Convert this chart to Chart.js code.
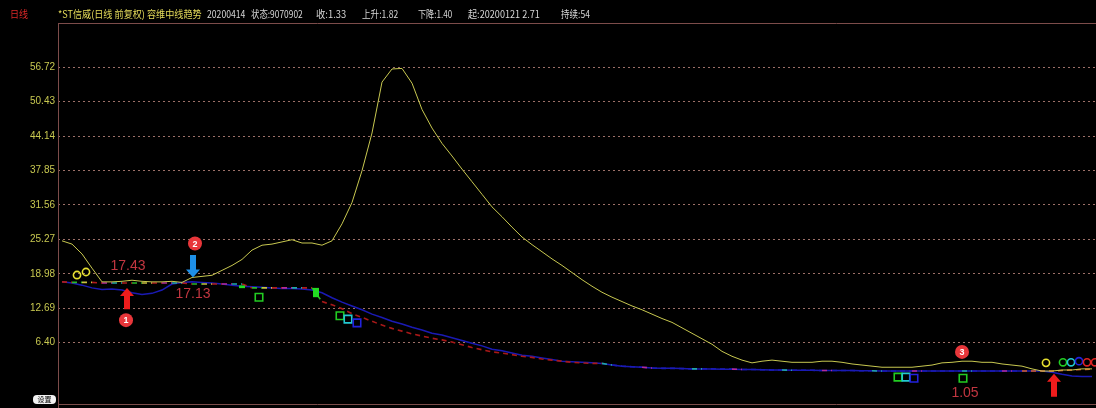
<!DOCTYPE html>
<html><head><meta charset="utf-8">
<script src="https://cdn.jsdelivr.net/npm/chart.js@4.4.0/dist/chart.umd.min.js"></script>
<style>
html,body{margin:0;padding:0;background:#000;}
#wrap{position:relative;width:1096px;height:408px;overflow:hidden;background:#000;}
canvas{position:absolute;left:0;top:0;}
.h{position:absolute;top:7px;font-size:10px;font-family:"Noto Sans CJK SC","Noto Sans",sans-serif;white-space:nowrap;color:#d6d6d6;line-height:14px;transform-origin:0 50%;}
#btn{position:absolute;left:33px;top:395px;width:23px;height:9px;background:#f2f2f2;border-radius:4px;font-size:7px;line-height:9px;text-align:center;color:#000;font-family:"Noto Sans CJK SC",sans-serif;}
</style></head><body>
<div id="wrap">
<canvas id="c" width="1096" height="408"></canvas>
<div class="h" data-w="18" style="left:10px;color:#e02828">日线</div>
<div class="h" data-w="144" style="left:58px;color:#e6dc5a">*ST信威(日线 前复权) 容维中线趋势</div>
<div class="h" data-w="38" style="left:207px">20200414</div>
<div class="h" data-w="52" style="left:251px">状态:9070902</div>
<div class="h" data-w="30" style="left:316px">收:1.33</div>
<div class="h" data-w="36" style="left:362px">上升:1.82</div>
<div class="h" data-w="34" style="left:418px">下降:1.40</div>
<div class="h" data-w="72" style="left:468px">起:20200121 2.71</div>
<div class="h" data-w="29" style="left:561px">持续:54</div>
<div id="btn">设置</div>
</div>
<script>
// ---- data ----
const days = Array.from({length:104},(_,i)=>i);
const yTicks = [6.40,12.69,18.98,25.27,31.56,37.85,44.14,50.43,56.72];
const trendLine = [25.0,24.4,22.6,20.0,17.5,17.5,17.6,17.8,17.6,17.5,
 17.5,17.6,17.4,18.3,18.5,18.7,19.6,20.5,21.6,23.3,
 24.2,24.4,24.8,25.2,24.6,24.6,24.2,25.0,28.1,32.0,
 37.8,44.7,54.0,56.4,56.5,53.8,49.0,45.6,42.8,40.5,
 38.1,35.8,33.5,31.2,29.4,27.5,25.7,24.3,23.0,21.7,
 20.5,19.2,17.9,16.7,15.6,14.7,13.9,13.1,12.4,11.6,
 10.8,10.1,9.1,8.1,7.1,6.1,4.8,3.9,3.2,2.7,
 3.0,3.2,3.0,2.8,2.8,2.8,3.0,3.0,2.8,2.5,
 2.3,2.1,1.9,1.9,1.9,1.9,2.1,2.3,2.7,2.8,
 3.0,3.0,2.8,2.8,2.5,2.3,2.1,1.6,1.2,1.2,
 1.4,1.4,1.6,1.6];
const midLine = [17.5,17.3,16.9,16.4,16.1,16.2,16.0,15.5,15.2,15.4,
 16.0,17.1,17.4,17.5,17.4,17.3,17.1,16.9,16.7,16.6,
 16.5,16.4,16.3,16.3,16.2,16.0,15.5,14.6,13.8,13.1,
 12.4,11.6,11.0,10.3,9.8,9.2,8.7,8.1,7.8,7.3,
 6.8,6.3,5.8,5.2,4.9,4.5,4.1,3.9,3.6,3.3,
 3.0,2.9,2.8,2.7,2.6,2.3,2.1,2.0,1.9,1.75,
 1.7,1.7,1.65,1.6,1.6,1.6,1.55,1.55,1.5,1.5,
 1.45,1.4,1.4,1.35,1.35,1.35,1.3,1.3,1.3,1.3,
 1.25,1.25,1.2,1.2,1.2,1.2,1.2,1.2,1.2,1.2,
 1.2,1.2,1.2,1.2,1.2,1.2,1.2,1.2,1.2,1.0,
 0.6,0.3,0.2,0.2];
const stopLine = [17.5,17.4,17.4,17.4,17.3,17.3,17.3,17.3,17.3,17.3,
 17.3,17.3,17.3,17.1,17.1,17.1,17.1,17.1,17.1,16.4,
 16.4,16.4,16.4,16.4,16.4,16.4,13.9,13.3,12.6,11.7,
 11.0,10.3,9.6,9.0,8.5,8.0,7.6,7.2,6.9,6.5,
 6.0,5.5,5.1,4.7,4.5,4.2,3.9,3.7,3.4,3.2,
 3.0,2.8,2.7,2.6,2.6,2.3,2.1,2.0,1.9,1.75,
 1.7,1.7,1.65,1.6,1.6,1.6,1.55,1.55,1.5,1.5,
 1.45,1.4,1.4,1.35,1.35,1.35,1.3,1.3,1.3,1.3,
 1.25,1.25,1.2,1.2,1.2,1.2,1.2,1.2,1.2,1.2,
 1.2,1.2,1.2,1.2,1.2,1.2,1.2,1.2,1.2,1.2,
 1.3,1.4,1.5,1.55];
const circleIdx  = [1.5, 2.4, 98.4, 100.1, 100.9, 101.7, 102.5, 103.3];
const circleVal  = [18.75, 19.3, 2.7, 2.8, 2.8, 3.0, 2.8, 2.8];
const circleKind = ['yellow','yellow','yellow','green','cyan','blue','red','red'];
const squareIdx  = [19.7, 27.8, 28.6, 29.5, 83.6, 84.4, 85.2, 90.1];
const squareVal  = [14.7, 11.3, 10.7, 10.0, 0.1, 0.1, -0.1, -0.1];
const squareKind = ['green','green','cyan','blue','green','cyan','blue','green'];
const signalNo   = ['1','2','3'];
const badgeIdx   = [6.4, 13.3, 90.0];
const badgeVal   = [10.5, 24.5, 4.7];
const arrowIdx   = [6.5, 13.1, 99.2];
const arrowDir   = ['up','down','up'];
const arrowFrom  = [12.5, 22.4, -3.5];
const arrowTo    = [16.4, 18.3, 0.7];
const priceText  = ['17.43','17.13','1.05'];
const priceIdx   = [6.6, 13.1, 90.3];
const priceVal   = [20.4, 15.3, -2.8];
const blockIdx   = [18.0, 25.4];
const blockHigh  = [16.85, 16.4];
const blockLow   = [16.35, 14.7];

// ---- header width fit ----
document.querySelectorAll('.h').forEach(el=>{
  const w = +el.dataset.w, nat = el.scrollWidth;
  if (nat > 0) el.style.transform = 'scaleX(' + (w/nat) + ')';
});

// ---- styles ----
const kindColor = {yellow:'#e6e030',green:'#22cc22',cyan:'#22c8d0',blue:'#2222dd',red:'#dd2222'};
const AX = '#7c4c4a';

const overlay = {
  id:'overlay',
  beforeDatasetsDraw(chart){
    const {ctx, chartArea:a} = chart;
    ctx.save();
    ctx.strokeStyle = AX; ctx.lineWidth = 1;
    ctx.beginPath();
    ctx.moveTo(a.left+0.5, a.top); ctx.lineTo(a.left+0.5, 408);
    ctx.moveTo(a.left, a.top+0.5); ctx.lineTo(a.right, a.top+0.5);
    ctx.moveTo(a.left, a.bottom-0.5); ctx.lineTo(a.right, a.bottom-0.5);
    ctx.stroke();
    ctx.restore();
  },
  afterDatasetsDraw(chart){
    const {ctx, scales:{x,y}} = chart;
    ctx.save();
    ctx.fillStyle = '#22dd22';
    blockIdx.forEach((d,i)=>{
      const px = x.getPixelForValue(d), t = y.getPixelForValue(blockHigh[i]), b = y.getPixelForValue(blockLow[i]);
      ctx.fillRect(px-3, t, 6, b-t);
    });
    arrowIdx.forEach((d,i)=>{
      const px = x.getPixelForValue(d);
      const p0 = y.getPixelForValue(arrowFrom[i]), p1 = y.getPixelForValue(arrowTo[i]);
      const dir = p1 < p0 ? -1 : 1;
      const head = 8, hw = 7, sw = 3;
      ctx.fillStyle = arrowDir[i]==='down' ? '#1e90e8' : '#ee1c1c';
      ctx.beginPath();
      ctx.moveTo(px-sw, p0);
      ctx.lineTo(px-sw, p1 - dir*head);
      ctx.lineTo(px-hw, p1 - dir*head);
      ctx.lineTo(px, p1);
      ctx.lineTo(px+hw, p1 - dir*head);
      ctx.lineTo(px+sw, p1 - dir*head);
      ctx.lineTo(px+sw, p0);
      ctx.closePath();
      ctx.fill();
    });
    badgeIdx.forEach((d,i)=>{
      const px = x.getPixelForValue(d), by = y.getPixelForValue(badgeVal[i]);
      ctx.fillStyle = '#e8363a';
      ctx.beginPath(); ctx.arc(px, by, 7, 0, Math.PI*2); ctx.fill();
      ctx.fillStyle = '#fff';
      ctx.font = 'bold 9px "Liberation Sans", sans-serif';
      ctx.textAlign='center'; ctx.textBaseline='middle';
      ctx.fillText(signalNo[i], px, by+0.5);
    });
    ctx.font = '14px "Liberation Sans", sans-serif';
    ctx.fillStyle = '#c23640';
    ctx.textAlign='center'; ctx.textBaseline='middle';
    priceText.forEach((t,i)=>{
      ctx.fillText(t, x.getPixelForValue(priceIdx[i]), y.getPixelForValue(priceVal[i]));
    });
    ctx.restore();
  }
};

const palette1 = ['#b01c1c','#2ab82a','#c8c040','#b01c1c','#b42a9a','#20a8a8'];
function dashColor(c){
  const i = c.p0DataIndex;
  if (i < 26) return palette1[i % palette1.length];
  if (i < 54) return '#a81818';
  if (i < 96) return (i%9===0) ? '#20a8a8' : (i%9===4 ? '#b42a9a' : '#1a1ab4');
  return '#d8602a';
}

new Chart(document.getElementById('c'), {
  type:'line',
  data:{
    labels: days,
    datasets:[
      {data:trendLine, borderColor:'#c8c850', borderWidth:1, pointRadius:0, order:3},
      {data:stopLine, borderColor:'#a81818', borderWidth:1.6, borderDash:[5,4], pointRadius:0, order:4,
       segment:{borderColor: dashColor}},
      {data:midLine, borderColor:'#1a1ab4', borderWidth:1.5, pointRadius:0, order:5},
      {type:'scatter', data:circleIdx.map((d,i)=>({x:d,y:circleVal[i]})), pointStyle:'circle', pointRadius:3.6,
       pointBorderWidth:1.6, pointBackgroundColor:'rgba(0,0,0,0)',
       pointBorderColor:circleKind.map(k=>kindColor[k]), order:1},
      {type:'scatter', data:squareIdx.map((d,i)=>({x:d,y:squareVal[i]})), pointStyle:'rect', pointRadius:5.3,
       pointBorderWidth:1.6, pointBackgroundColor:'rgba(0,0,0,0)',
       pointBorderColor:squareKind.map(k=>kindColor[k]), order:2}
    ]
  },
  options:{
    responsive:false, animation:false, devicePixelRatio:1,
    layout:{autoPadding:false, padding:{top:23,bottom:3,left:0,right:0}},
    plugins:{legend:{display:false}, tooltip:{enabled:false}},
    elements:{line:{tension:0}},
    scales:{
      x:{type:'linear', display:false, min:-0.4, max:103.4},
      y:{min:-5, max:64.8,
         afterFit(s){ s.width = 58; s.paddingTop = 0; s.paddingBottom = 0; },
         afterBuildTicks(s){ s.ticks = yTicks.map(v=>({value:v})); },
         grid:{color:'#9c7068', lineWidth:1, drawTicks:false},
         border:{display:false, dash:[2,3]},
         ticks:{color:'#c8c850', padding:3, font:{size:10, family:'"Liberation Sans", sans-serif'},
                callback:v=>v.toFixed(2)}
      }
    }
  },
  plugins:[overlay]
});
</script>
</body></html>
